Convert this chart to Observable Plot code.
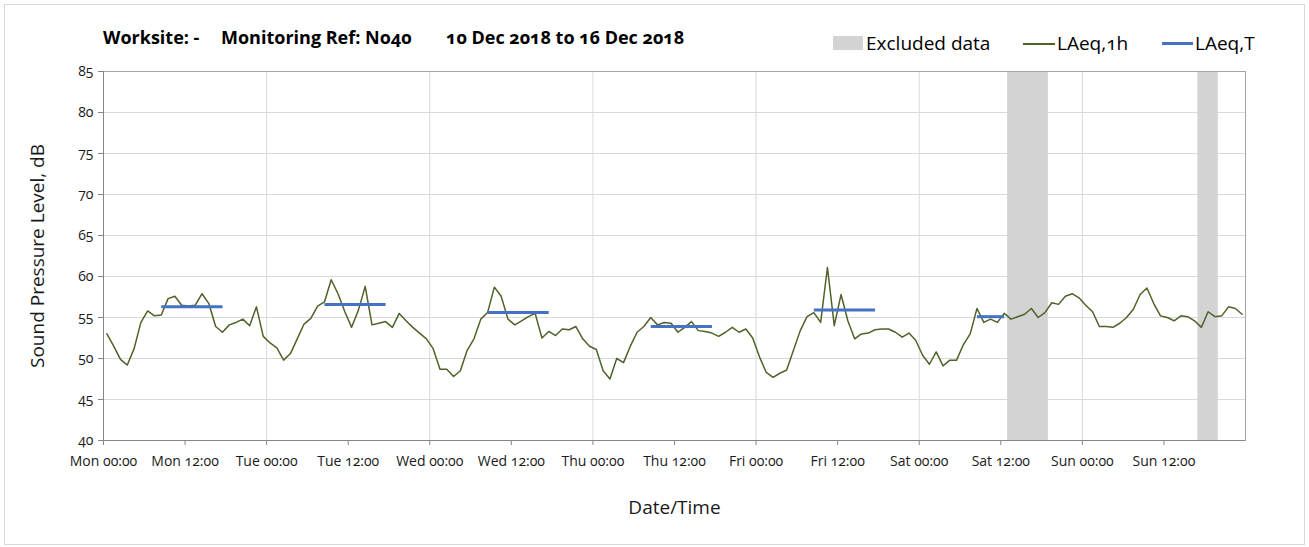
<!DOCTYPE html>
<html>
<head>
<meta charset="utf-8">
<script src="https://cdn.jsdelivr.net/npm/d3@7"></script>
<script src="https://cdn.jsdelivr.net/npm/@observablehq/plot@0.6"></script>
<style>
  html, body { margin: 0; padding: 0; background: #fff; }
  #wrap { position: relative; width: 1309px; height: 547px; overflow: hidden;
          font-family: "Open Sans", "Lato", sans-serif; font-variant-numeric: oldstyle-nums; color: #000; }
  #border { position: absolute; left: 4px; top: 4px; width: 1301px; height: 541px;
            border: 1px solid #d9d9d9; box-sizing: border-box; pointer-events: none; }
  #chart { position: absolute; left: 0; top: 0; }
  #chart svg text { font-variant-numeric: oldstyle-nums !important; }
  .title { position: absolute; top: 25px; font-size: 18px; font-weight: bold; white-space: pre; }
  .leg { position: absolute; top: 30px; font-size: 19px; white-space: pre; }
  .sw { position: absolute; }
</style>
</head>
<body>
<div id="wrap">
  <div id="chart"></div>
  <div id="border"></div>
  <div class="title" style="left:103px">Worksite: -</div>
  <div class="title" style="left:221px">Monitoring Ref: No40</div>
  <div class="title" style="left:446px">10 Dec 2018 to 16 Dec 2018</div>
  <div class="sw" style="left:833px;top:36px;width:30px;height:14px;background:#d3d3d3"></div>
  <div class="leg" style="left:866px">Excluded data</div>
  <div class="sw" style="left:1023px;top:43px;width:32px;height:1.5px;background:#4f6228"></div>
  <div class="leg" style="left:1057px">LAeq,1h</div>
  <div class="sw" style="left:1162px;top:42px;width:31px;height:3px;background:#4472c4"></div>
  <div class="leg" style="left:1195px">LAeq,T</div>
</div>
<script>
// Hourly LAeq,1h values (dB), Mon 10 Dec 2018 00:00 onwards, one per hour
const monLevels = [53.0, 51.5, 49.9, 49.2, 51.2, 54.4, 55.8, 55.2, 55.3, 57.3, 57.6, 56.5, 56.4, 56.5, 57.9, 56.7, 53.9, 53.2, 54.1, 54.4, 54.8, 54.0, 56.3, 52.7];
const tueLevels = [51.9, 51.3, 49.8, 50.6, 52.4, 54.2, 54.9, 56.4, 56.9, 59.6, 57.9, 55.7, 53.8, 55.9, 58.8, 54.1, 54.3, 54.5, 53.8, 55.5, 54.6, 53.8, 53.1, 52.4];
const wedLevels = [51.2, 48.7, 48.7, 47.8, 48.5, 51.0, 52.4, 54.8, 55.6, 58.7, 57.6, 54.8, 54.1, 54.6, 55.1, 55.5, 52.5, 53.3, 52.8, 53.6, 53.5, 53.9, 52.4, 51.5];
const thuLevels = [51.1, 48.5, 47.5, 50.0, 49.5, 51.5, 53.2, 53.9, 55.0, 54.1, 54.4, 54.3, 53.2, 53.8, 54.5, 53.4, 53.3, 53.1, 52.7, 53.2, 53.8, 53.2, 53.6, 52.5];
const friLevels = [50.2, 48.3, 47.7, 48.2, 48.6, 51.0, 53.4, 55.1, 55.6, 54.4, 61.1, 54.0, 57.8, 54.6, 52.4, 53.0, 53.1, 53.5, 53.6, 53.6, 53.2, 52.6, 53.1, 52.2];
const satLevels = [50.4, 49.3, 50.8, 49.1, 49.8, 49.8, 51.7, 53.0, 56.1, 54.4, 54.8, 54.4, 55.5, 54.8, 55.1, 55.4, 56.1, 55.0, 55.6, 56.8, 56.6, 57.6, 57.9, 57.4];
const sunLevels = [56.5, 55.7, 53.9, 53.9, 53.8, 54.3, 55.0, 56.0, 57.8, 58.6, 56.7, 55.2, 55.0, 54.6, 55.2, 55.1, 54.6, 53.8, 55.7, 55.1, 55.2, 56.3, 56.1, 55.4];

// LAeq,T daytime periods: day index (0 = Mon), start hour, end hour, level
const periodDay   = [0, 1, 2, 3, 4, 5];
const periodStart = [8.5, 8.5, 8.5, 8.5, 8.5, 8.5];
const periodEnd   = [17.5, 17.5, 17.5, 17.5, 17.5, 12.5];
const periodLevel = [56.3, 56.6, 55.6, 53.9, 55.9, 55.1];

// Excluded data windows: day index, start hour, end hour
const exclDay   = [5, 6];
const exclStart = [13, 17];
const exclEnd   = [19, 20];

const yTicks = [40, 45, 50, 55, 60, 65, 70, 75, 80, 85];

const H = 3600e3;
const t0 = Date.UTC(2018, 11, 10);
const at = (day, hour) => new Date(t0 + (day * 24 + hour) * H);

const levels = [monLevels, tueLevels, wedLevels, thuLevels, friLevels, satLevels, sunLevels];
const hourly = levels.flatMap((arr, d) => arr.map((v, h) => ({t: at(d, h + 0.5), v})));
const periods = periodDay.map((d, i) => ({x1: at(d, periodStart[i]), x2: at(d, periodEnd[i]), v: periodLevel[i]}));
const excluded = exclDay.map((d, i) => ({x1: at(d, exclStart[i]), x2: at(d, exclEnd[i])}));

const dayTicks = d3.range(0, 8).map(d => at(d, 0));
const halfDayTicks = d3.range(0, 14).map(k => at(0, k * 12));
const fmt = d3.utcFormat("%a %H:%M");

const chart = Plot.plot({
  width: 1309,
  height: 547,
  marginLeft: 103,
  marginRight: 64,
  marginTop: 71,
  marginBottom: 107,
  x: {type: "utc", domain: [at(0, 0), at(7, 0)]},
  y: {domain: [40, 85]},
  style: {fontFamily: "'Open Sans', Lato, sans-serif", fontSize: "14px", color: "#1a1a1a", background: "transparent"},
  marks: [
    Plot.gridY(yTicks.slice(1), {stroke: "#d9d9d9", strokeOpacity: 1}),
    Plot.gridX(dayTicks.slice(1, 7), {stroke: "#d9d9d9", strokeOpacity: 1}),
    Plot.rect(excluded, {x1: "x1", x2: "x2", fill: "#d3d3d3"}),
    Plot.frame({stroke: "#a6a6a6"}),
    Plot.line(hourly, {x: "t", y: "v", stroke: "#4f6228", strokeWidth: 1.5}),
    Plot.link(periods, {x1: "x1", x2: "x2", y1: "v", y2: "v", stroke: "#4472c4", strokeWidth: 3}),
    Plot.axisX(halfDayTicks, {tickFormat: fmt, tickSize: 5, tickPadding: 11, stroke: "#868686",
      fontSize: 14,
      label: "Date/Time", labelAnchor: "center", labelOffset: 73, labelArrow: "none"}),
    Plot.axisY(yTicks, {tickSize: 5, tickPadding: 5, stroke: "#868686",
      fontSize: 14,
      label: "Sound Pressure Level, dB", labelAnchor: "center", labelOffset: 73, labelArrow: "none"}),
    Plot.ruleY([40], {stroke: "#868686"}),
    Plot.ruleX([at(0, 0)], {stroke: "#868686"})
  ]
});
// enlarge axis titles
chart.querySelectorAll("g[aria-label='x-axis label'], g[aria-label='y-axis label']").forEach(g => g.setAttribute("font-size", "19"));
chart.querySelectorAll("g[aria-label='x-axis label'] text, g[aria-label='y-axis label'] text").forEach(t => t.setAttribute("font-size", "19"));
// old-style figures for tick labels
chart.querySelectorAll("[font-variant]").forEach(el => el.removeAttribute("font-variant"));
chart.querySelectorAll("text").forEach(t => t.style.fontVariantNumeric = "oldstyle-nums");
document.getElementById("chart").appendChild(chart);
</script>
</body>
</html>
